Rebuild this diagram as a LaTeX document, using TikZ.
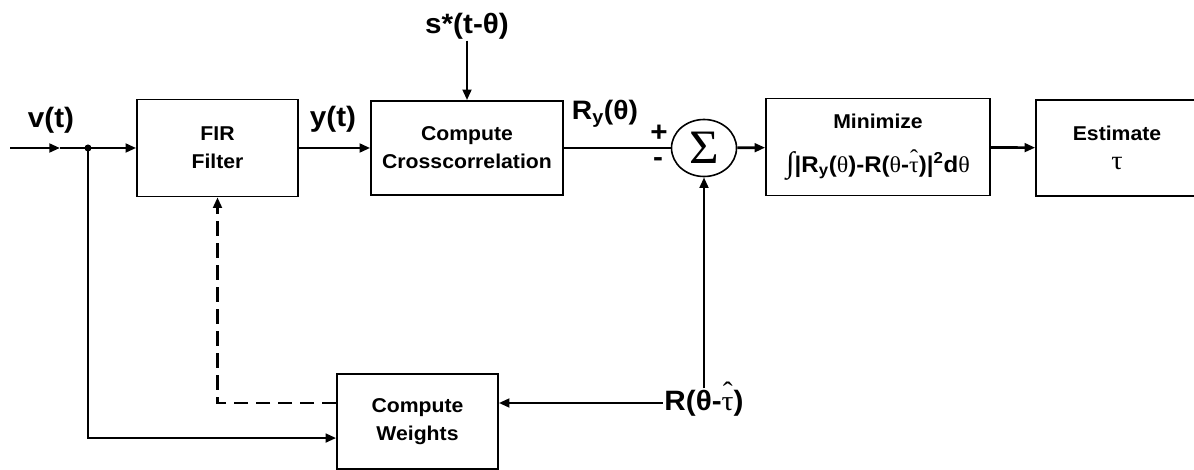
\documentclass[tikz,border=0pt]{standalone}
\usepackage{fontspec}
\setmainfont{Liberation Sans}[FakeStretch=1.06]
\newfontfamily\symfont{Liberation Serif}[FakeStretch=1.06]
\usetikzlibrary{positioning,arrows.meta,shapes.geometric}
\newcommand{\sy}[1]{{\symfont\mdseries #1}}
\newcommand{\tauhat}{\sy{\ooalign{τ\cr\hidewidth\raisebox{0.32em}{ˆ}\hidewidth\cr}}}

\begin{document}
\begin{tikzpicture}[x=0.75pt, y=-0.75pt,
  font=\fontsize{15}{21}\selectfont\bfseries,
  block/.style={draw, line width=1.2pt, align=center, inner sep=0pt},
  lab/.style={font=\fontsize{21}{24}\selectfont\bfseries, inner sep=1pt},
  arr/.style={-{Triangle[length=8pt,width=6.5pt]}, line width=2pt},
  wire/.style={line width=2pt},
  dashwire/.style={-{Triangle[length=8pt,width=6.5pt]}, line width=2pt, dash pattern=on 11pt off 5.5pt}]
  \useasboundingbox (0,0) rectangle (1194,470);
  % blocks in the forward path
  \node[block, minimum width=120.75pt, minimum height=72.75pt] (fir) at (217.5,148) {FIR\\Filter};
  \node[block, minimum width=144pt, minimum height=70.5pt] (cross) at (467,148) {Compute\\Crosscorrelation};
  \node[draw, ellipse, line width=1.2pt, minimum width=48.75pt, minimum height=42.75pt, inner sep=0pt] (sig) at (704,148)
     {\sy{\fontsize{36}{36}\selectfont Σ}};
  \node[block, minimum width=168pt, minimum height=72.75pt] (mini) at (878,147)
     {Minimize\\[12pt] \fontsize{17}{21}\selectfont\sy{\fontsize{22}{22}\selectfont ∫}|R\textsubscript{y}(\sy{θ})-R(\sy{θ}-\tauhat)|\textsuperscript{2}d\sy{θ}};
  \node[block, minimum width=121.5pt, minimum height=72pt] (est) at (1117,148)
     {Estimate\\[1pt] \sy{\fontsize{20}{21}\selectfont τ}};
  % feedback block
  \node[block, minimum width=120.75pt, minimum height=71.25pt] (wts) at (417.5,421.5) {Compute\\Weights};
  % signal labels
  \node[lab] (vlab) at (51,120) {v(t)};
  \node[lab] (ylab) at (333,119) {y(t)};
  \node[lab] (slab) at (467,26) {s*(t-θ)};
  \node[lab, font=\fontsize{20}{24}\selectfont\bfseries] (rylab) at (605,114) {R\textsubscript{y}(θ)};
  \node[lab] (plus) at (659,133) {+};
  \node[lab] (minus) at (658,162) {-};
  \node[lab] (rtau) at (704,403) {R(θ-\tauhat)};
  % input and branch point
  \coordinate (vin) at (10,148);
  \coordinate (vmid) at (60,148);
  \coordinate (jn) at (88,148);
  \coordinate (wlo) at ([yshift=-12.4pt]wts.west);
  % connectors
  \draw[arr] (vin) -- (vmid);
  \draw[wire] (vmid) -- (jn);
  \fill (jn) circle (3.5);
  \draw[arr] (jn) -- (fir);
  \draw[arr] (fir) -- (cross);
  \draw[arr] (slab) -- (cross);
  \draw[wire] (cross) -- (sig);
  \draw[arr] (sig) -- (mini);
  \draw[arr] (mini) -- (est);
  \draw[arr] (rtau) -- (sig);
  \draw[arr] (rtau) -- (rtau -| wts.east);
  \draw[dashwire] (rtau -| wts.west) -| (fir);
  \draw[arr] (jn) |- (wlo);
\end{tikzpicture}
\end{document}
